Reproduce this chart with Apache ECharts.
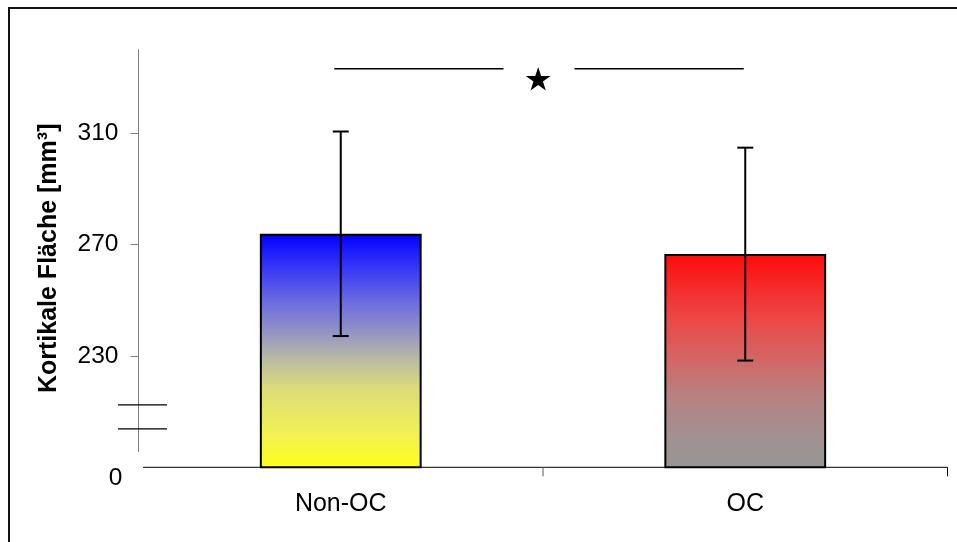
<!DOCTYPE html>
<html>
<head>
<meta charset="utf-8">
<script src="https://cdn.jsdelivr.net/npm/echarts@6/dist/echarts.min.js"></script>
<style>
  html, body { margin: 0; padding: 0; background: #fff; }
  #chart { width: 957px; height: 542px; }
</style>
</head>
<body>
<div id="chart"></div>
<script>
// ---- data ----
const categories = ['Non-OC', 'OC'];
const means = [273.8, 266.5];          // bar heights (mm³)
const sds = [36.7, 38.2];              // error bar half-lengths
const tickValues = [230, 270, 310];    // labelled ticks above the axis break
const axisMin = 190;                   // bottom of the broken axis, labelled "0"
const axisMax = 340;
const zeroLabel = '0';
const axisTitle = 'Kortikale Fläche [mm³]';

// ---- layout helpers (axis decoration, in axis units) ----
const brokenAxisEnd = 195.5;           // where the vertical axis line stops
const breakMarks = [212.4, 203.8];     // the two break strokes
const bracketLevel = 333;              // significance bracket height
const starLevel = 329;

const FONT = '"Liberation Sans", Arial, Helvetica, sans-serif';

const chart = echarts.init(document.getElementById('chart'), null, { renderer: 'canvas' });

// vertical fills: blue -> grey -> yellow, red -> grey
const barFills = [
  new echarts.graphic.LinearGradient(0, 0, 0, 1, [
    { offset: 0, color: '#0000ff' },
    { offset: 0.14, color: '#3535f5' },
    { offset: 0.28, color: '#6868e0' },
    { offset: 0.44, color: '#9a9ac0' },
    { offset: 0.54, color: '#bcbca0' },
    { offset: 0.66, color: '#dcdc78' },
    { offset: 0.86, color: '#f2f250' },
    { offset: 1, color: '#ffff18' }
  ]),
  new echarts.graphic.LinearGradient(0, 0, 0, 1, [
    { offset: 0, color: '#ff0a0a' },
    { offset: 0.15, color: '#f52a2a' },
    { offset: 0.31, color: '#ec4848' },
    { offset: 0.5, color: '#d06868' },
    { offset: 0.65, color: '#b88080' },
    { offset: 0.86, color: '#a09292' },
    { offset: 1, color: '#989696' }
  ])
];

const option = {
  animation: false,
  backgroundColor: '#fff',
  grid: { left: 138.5, right: 9.5, top: 49.3, bottom: 74.7 },
  xAxis: {
    type: 'category',
    data: categories,
    axisLine: { show: false },
    axisTick: { show: false },
    axisLabel: { fontFamily: FONT, fontSize: 25, color: '#000', margin: 24 }
  },
  yAxis: {
    type: 'value',
    min: axisMin,
    max: axisMax,
    interval: 40,
    name: axisTitle,
    nameLocation: 'middle',
    nameGap: 77,
    nameTextStyle: { fontFamily: FONT, fontSize: 25, fontWeight: 'bold', color: '#000' },
    splitLine: { show: false },
    axisLine: { show: false },
    axisTick: {
      show: true,
      customValues: tickValues,
      length: 8,
      lineStyle: { color: '#808080', width: 1 }
    },
    axisLabel: {
      customValues: [axisMin].concat(tickValues),
      margin: 16,
      formatter: v => (v === axisMin ? '{z|' + zeroLabel + '}' : '{n|' + v + '}'),
      rich: {
        n: { fontFamily: FONT, fontSize: 24.5, color: '#000', padding: [0, 4, 0, 0] },
        z: { fontFamily: FONT, fontSize: 24.5, color: '#000', padding: [22, 0, 0, 0] }
      }
    }
  },
  series: [
    {
      type: 'bar',
      barWidth: '40%',
      data: means.map((m, i) => ({
        value: m,
        itemStyle: { color: barFills[i], borderColor: '#000', borderWidth: 2 }
      })),
      z: 2
    },
    {
      type: 'custom',
      z: 5,
      data: categories.map((c, i) => [i, means[i], sds[i]]),
      renderItem: (params, api) => {
        const i = api.value(0), m = api.value(1), s = api.value(2);
        const top = api.coord([i, m + s]);
        const bot = api.coord([i, m - s]);
        const cap = 8;
        const st = { stroke: '#000', lineWidth: 2 };
        return {
          type: 'group',
          children: [
            { type: 'line', shape: { x1: top[0], y1: top[1], x2: bot[0], y2: bot[1] }, style: st },
            { type: 'line', shape: { x1: top[0] - cap, y1: top[1], x2: top[0] + cap, y2: top[1] }, style: st },
            { type: 'line', shape: { x1: bot[0] - cap, y1: bot[1], x2: bot[0] + cap, y2: bot[1] }, style: st }
          ]
        };
      }
    }
  ]
};

chart.setOption(option);

// ---- axis lines, break marks, significance bracket and outer frame ----
const px = (c, v) => chart.convertToPixel({ gridIndex: 0 }, [c, v]);
const c0 = px(0, axisMin)[0];
const c1 = px(1, axisMin)[0];
const band = c1 - c0;
const leftX = c0 - band / 2;
const rightX = c1 + band / 2;
const baseY = px(0, axisMin)[1];
const yTop = px(0, axisMax)[1];
const yAxisEnd = px(0, brokenAxisEnd)[1];

const bx0 = c0 - 6.5;
const bx1 = c1 - 1.5;
const gapMid = (bx0 + bx1) / 2;
const gapHalf = 35.5;
const bracketY = px(0, bracketLevel)[1];
const starY = px(0, starLevel)[1];

function starPoints(cx, cy, R) {
  const r = R * 0.382;
  const pts = [];
  for (let k = 0; k < 10; k++) {
    const a = -Math.PI / 2 + k * Math.PI / 5;
    const rad = k % 2 === 0 ? R : r;
    pts.push([cx + rad * Math.cos(a), cy + rad * Math.sin(a)]);
  }
  return pts;
}

const graphics = [
  // outer frame
  { type: 'rect', shape: { x: 9, y: 8, width: 1000, height: 1000 },
    style: { fill: null, stroke: '#111', lineWidth: 2 }, silent: true },
  // vertical axis line (stops short of the baseline)
  { type: 'line', shape: { x1: leftX, y1: yTop, x2: leftX, y2: yAxisEnd },
    style: { stroke: '#808080', lineWidth: 1 } },
  // horizontal axis line
  { type: 'line', shape: { x1: leftX + 4.5, y1: baseY, x2: rightX, y2: baseY },
    style: { stroke: '#000', lineWidth: 1 } },
  { type: 'line', shape: { x1: (c0 + c1) / 2, y1: baseY, x2: (c0 + c1) / 2, y2: baseY + 9 },
    style: { stroke: '#555', lineWidth: 1 } },
  { type: 'line', shape: { x1: rightX, y1: baseY, x2: rightX, y2: baseY + 9 },
    style: { stroke: '#000', lineWidth: 1 } },
  // significance bracket
  { type: 'line', shape: { x1: bx0, y1: bracketY, x2: gapMid - gapHalf, y2: bracketY },
    style: { stroke: '#000', lineWidth: 1.5 } },
  { type: 'line', shape: { x1: gapMid + gapHalf, y1: bracketY, x2: bx1, y2: bracketY },
    style: { stroke: '#000', lineWidth: 1.5 } },
  { type: 'polygon', shape: { points: starPoints(gapMid - 0.8, starY, 13) },
    style: { fill: '#000' } }
];
breakMarks.forEach(v => {
  const y = px(0, v)[1];
  graphics.push({ type: 'line', shape: { x1: leftX - 20.5, y1: y, x2: leftX + 28.5, y2: y },
    style: { stroke: '#000', lineWidth: 1.2 } });
});

chart.setOption({ graphic: graphics });
</script>
</body>
</html>
